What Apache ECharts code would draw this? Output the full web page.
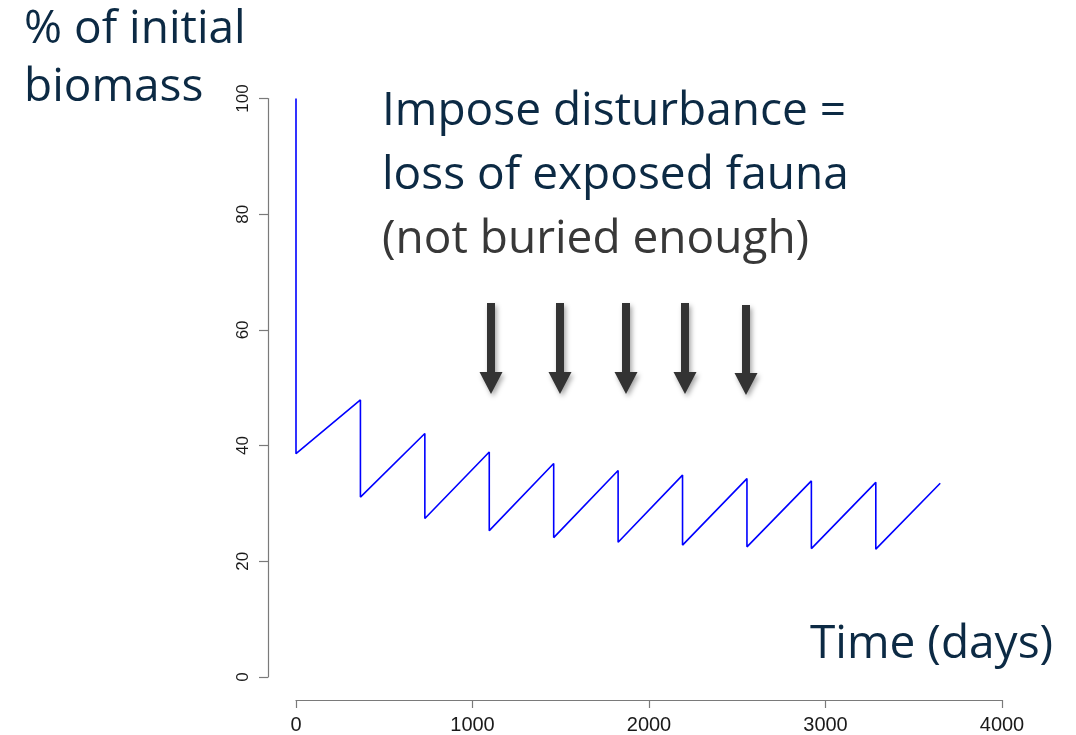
<!DOCTYPE html>
<html>
<head>
<meta charset="utf-8">
<script src="https://cdn.jsdelivr.net/npm/echarts@6/dist/echarts.min.js"></script>
<style>
  html, body { margin: 0; padding: 0; background: #ffffff; }
  #chart { width: 1076px; height: 735px; }
</style>
</head>
<body>
<div id="chart"></div>
<script>
// Biomass (% of initial) over time; a disturbance is imposed once a year,
// each one removing the exposed fauna, followed by recovery.
const days    = [0, 0, 365, 365, 730, 730, 1095, 1095, 1460, 1460, 1825, 1825,
                 2190, 2190, 2555, 2555, 2920, 2920, 3285, 3285, 3650];
const biomass = [100, 38.6, 47.9, 31.1, 42.1, 27.4, 38.9, 25.3, 36.9, 24.1, 35.7, 23.3,
                 34.9, 22.8, 34.3, 22.5, 33.9, 22.2, 33.65, 22.1, 33.5];

const xTicks = [0, 1000, 2000, 3000, 4000];
const yTicks = [0, 20, 40, 60, 80, 100];

const yLabelLines = ['% of initial', 'biomass'];
const xLabelText  = 'Time (days)';
const noteLines   = ['Impose disturbance =', 'loss of exposed fauna', '(not buried enough)'];

const series = days.map((d, i) => [d, biomass[i]]);

const NAVY = '#0c2a44';
const GREY_TEXT = '#383838';
const AXIS = '#7a7a7a';
const TEXT_FONT = '"Open Sans", Lato, sans-serif';
const TEXT_SIZE = 46;

// Downward arrows under the note (centre x, top y, tip y)
const arrows = [
  { cx: 491, top: 303, tip: 394 },
  { cx: 560, top: 303, tip: 394 },
  { cx: 626, top: 303, tip: 394 },
  { cx: 685, top: 303, tip: 394 },
  { cx: 746, top: 305, tip: 395 }
];

function arrowShape(a) {
  const shaft = 4, head = 11.5, headLen = 22;
  const hy = a.tip - headLen;
  return [
    [a.cx - shaft, a.top], [a.cx + shaft, a.top], [a.cx + shaft, hy],
    [a.cx + head, hy], [a.cx, a.tip], [a.cx - head, hy], [a.cx - shaft, hy]
  ];
}

const graphics = [];
arrows.forEach(a => graphics.push({
  type: 'polygon',
  shape: { points: arrowShape(a) },
  style: {
    fill: '#333333',
    shadowBlur: 5, shadowOffsetX: 2, shadowOffsetY: 3,
    shadowColor: 'rgba(0,0,0,0.35)'
  },
  z: 10
}));

yLabelLines.forEach((t, i) => graphics.push({
  type: 'text', left: 24, top: 7 + i * 58,
  style: { text: t, fill: NAVY, font: TEXT_SIZE + 'px ' + TEXT_FONT }
}));

noteLines.forEach((t, i) => graphics.push({
  type: 'text', left: 382, top: 89 + i * 64,
  style: { text: t, fill: i === 2 ? GREY_TEXT : NAVY, font: TEXT_SIZE + 'px ' + TEXT_FONT }
}));

graphics.push({
  type: 'text', left: 810, top: 622,
  style: { text: xLabelText, fill: NAVY, font: TEXT_SIZE + 'px ' + TEXT_FONT }
});

const chart = echarts.init(document.getElementById('chart'), null, { renderer: 'canvas' });
chart.setOption({
  backgroundColor: '#ffffff',
  animation: false,
  grid: { left: 296, right: 74, top: 98.5, bottom: 55, containLabel: false },
  xAxis: {
    type: 'value', min: 0, max: 4000, interval: 1000,
    offset: 23,
    axisLine: { show: true, onZero: false, lineStyle: { color: AXIS, width: 1.2 } },
    axisTick: { show: true, length: 8, lineStyle: { color: AXIS, width: 1.2 } },
    axisLabel: {
      margin: 15, color: '#1a1a1a', fontSize: 20,
      fontFamily: '"Liberation Sans", Arial, sans-serif',
      formatter: v => xTicks.includes(v) ? String(v) : ''
    },
    splitLine: { show: false }
  },
  yAxis: {
    type: 'value', min: 0, max: 100, interval: 20,
    offset: 28,
    axisLine: { show: true, onZero: false, lineStyle: { color: AXIS, width: 1.2 } },
    axisTick: { show: true, length: 9, lineStyle: { color: AXIS, width: 1.2 } },
    axisLabel: {
      margin: 16, rotate: 90, color: '#1a1a1a', fontSize: 17,
      fontFamily: '"Liberation Sans", Arial, sans-serif',
      formatter: v => yTicks.includes(v) ? String(v) : ''
    },
    splitLine: { show: false }
  },
  series: [{
    type: 'line',
    data: series,
    showSymbol: false,
    symbol: 'none',
    lineStyle: { color: '#0000ff', width: 1.6 },
    clip: false
  }],
  graphic: graphics
});
</script>
</body>
</html>
